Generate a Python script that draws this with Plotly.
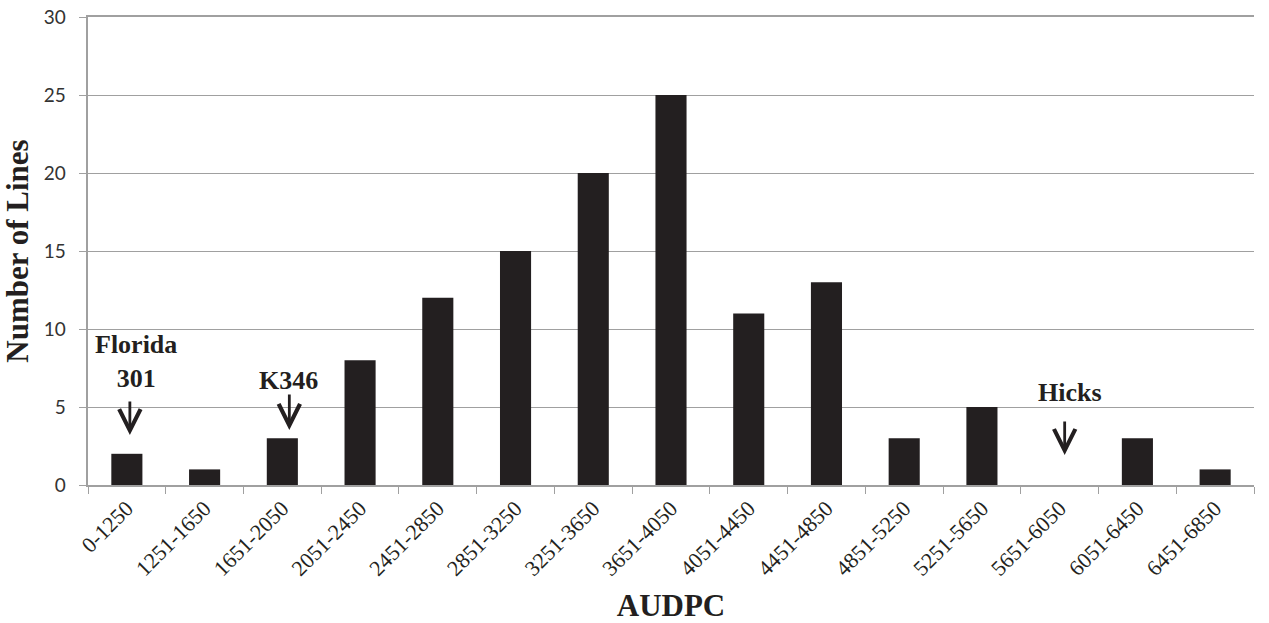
import plotly.graph_objects as go

categories = ["0-1250", "1251-1650", "1651-2050", "2051-2450", "2451-2850",
              "2851-3250", "3251-3650", "3651-4050", "4051-4450", "4451-4850",
              "4851-5250", "5251-5650", "5651-6050", "6051-6450", "6451-6850"]
counts = [2, 1, 3, 8, 12, 15, 20, 25, 11, 13, 3, 5, 0, 3, 1]

# labelled cultivars
labels = ["Florida<br>301", "K346", "Hicks"]
label_cats = ["0-1250", "1651-2050", "5651-6050"]
label_text_y = [7.9, 6.67, 5.96]
label_text_shift = [9, 6, 10]
arrow_tip_y = [3.2, 3.53, 1.92]
arrow_len_px = [35, 37, 35]
arrow_shift = [3, 7, 5]

serif = "Liberation Serif"

fig = go.Figure()
fig.add_trace(go.Bar(x=categories, y=counts, marker=dict(color="#231f20", line=dict(width=0))))

for lab, cat, ty, ts, tip, al, ash in zip(labels, label_cats, label_text_y, label_text_shift,
                                          arrow_tip_y, arrow_len_px, arrow_shift):
    fig.add_annotation(x=cat, y=ty, text="<b>%s</b>" % lab, showarrow=False,
                       font=dict(family=serif, size=26, color="#231f20"), xshift=ts)
    fig.add_annotation(x=cat, y=tip, text="", showarrow=True, ax=0, ay=-al,
                       arrowhead=5, arrowsize=1.5, arrowwidth=2.8, arrowcolor="#231f20",
                       xshift=ash)

fig.update_layout(
    width=1269, height=623,
    margin=dict(l=88, r=15, t=17, b=138),
    plot_bgcolor="white", paper_bgcolor="white",
    bargap=0.6, showlegend=False,
    xaxis=dict(
        title=dict(text="<b>AUDPC</b>", font=dict(family=serif, size=31, color="#231f20"), standoff=15),
        tickangle=-45, tickfont=dict(family=serif, size=22, color="#231f20"),
        showline=True, mirror=True, linecolor="#a0a0a0", linewidth=1.5,
        ticks="outside", tickson="boundaries", ticklen=7, tickcolor="#a0a0a0",
        showgrid=False, automargin=False,
    ),
    yaxis=dict(
        title=dict(text="<b>Number of Lines</b>", font=dict(family=serif, size=31, color="#231f20"), standoff=22),
        range=[0, 30], dtick=5, tickfont=dict(family="Lato", size=19, color="#333333"),
        ticksuffix="\u00a0\u00a0",
        showline=True, linecolor="#a0a0a0", linewidth=1.5,
        ticks="outside", ticklen=7, tickcolor="#a0a0a0",
        showgrid=True, gridcolor="#a0a0a0", gridwidth=1.2, zeroline=False,
        automargin=False,
    ),
)

fig.write_html("out.html", config={"displayModeBar": False},
               post_script="document.body.style.margin='0';")
